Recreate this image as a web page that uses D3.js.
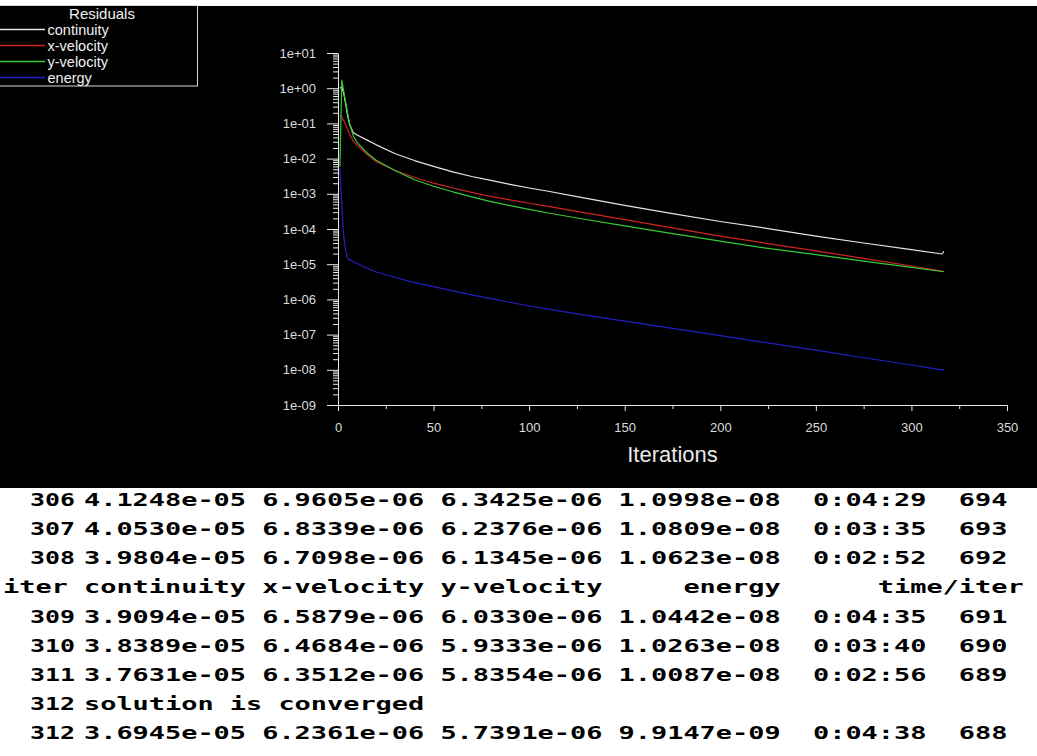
<!DOCTYPE html>
<html>
<head>
<meta charset="utf-8">
<script src="https://cdn.jsdelivr.net/npm/d3@7"></script>
<style>
  html, body { margin: 0; padding: 0; background: #ffffff; }
  svg { display: block; }
</style>
</head>
<body>
<svg id="chart" width="1037" height="756"></svg>
<script>
// ---------------- data ----------------
const iterations = [1, 2, 3, 4, 5, 6, 8, 10, 15, 20, 30, 40, 50, 60, 70, 80, 90, 100, 110, 125, 150, 175, 200, 225, 250, 275, 300, 316, 317];
const continuity = [1.0, 1.1, 0.7, 0.36, 0.17, 0.095, 0.054, 0.047, 0.034, 0.0246, 0.0137, 0.0088, 0.0060, 0.0042, 0.0031, 0.0024, 0.00185, 0.00146, 0.00118, 8.3e-4, 4.7e-4, 2.75e-4, 1.63e-4, 1.03e-4, 6.3e-5, 4.0e-5, 2.6e-5, 1.95e-5, 2.3e-5];
const xVelocity = [0.17, 0.15, 0.12, 0.09, 0.07, 0.05, 0.031, 0.024, 0.0134, 0.0081, 0.0046, 0.0029, 0.0020, 0.00146, 0.0011, 8.4e-4, 6.7e-4, 5.4e-4, 4.4e-4, 3.15e-4, 1.84e-4, 1.07e-4, 6.3e-5, 3.86e-5, 2.4e-5, 1.46e-5, 8.9e-6, 6.35e-6, 6.2e-6];
const yVelocity = [0.0059, 1.7, 0.8, 0.4, 0.2, 0.1, 0.044, 0.029, 0.0147, 0.009, 0.0045, 0.0025, 0.00164, 0.00114, 8.2e-4, 6.0e-4, 4.6e-4, 3.6e-4, 2.85e-4, 2.05e-4, 1.23e-4, 7.4e-5, 4.5e-5, 2.8e-5, 1.86e-5, 1.23e-5, 8.1e-6, 6.2e-6, 6.1e-6];
const energy = [0.0054, 4.5e-4, 6e-5, 2.5e-5, 1.45e-5, 1.35e-5, 1.18e-5, 1.05e-5, 7.8e-6, 6.0e-6, 4.2e-6, 3.0e-6, 2.3e-6, 1.75e-6, 1.35e-6, 1.05e-6, 8.3e-7, 6.5e-7, 5.3e-7, 3.9e-7, 2.4e-7, 1.5e-7, 9.4e-8, 5.8e-8, 3.6e-8, 2.2e-8, 1.37e-8, 1.0e-8, 9.9e-9];

const seriesNames = ["continuity", "x-velocity", "y-velocity", "energy"];
const legendTitle = "Residuals";
const xLabel = "Iterations";

const xTickValues = [0, 50, 100, 150, 200, 250, 300, 350];
const xMinorTickValues = [25, 75, 125, 175, 225, 275, 325];
const yTickValues = [1e1, 1e0, 1e-1, 1e-2, 1e-3, 1e-4, 1e-5, 1e-6, 1e-7, 1e-8, 1e-9];
const yTickLabels = ["1e+01", "1e+00", "1e-01", "1e-02", "1e-03", "1e-04", "1e-05", "1e-06", "1e-07", "1e-08", "1e-09"];
const minorMultipliers = [2, 3, 4, 5, 6, 7, 8, 9];

const consoleLines = [
  " 306 4.1248e-05 6.9605e-06 6.3425e-06 1.0998e-08  0:04:29  694",
  " 307 4.0530e-05 6.8339e-06 6.2376e-06 1.0809e-08  0:03:35  693",
  " 308 3.9804e-05 6.7098e-06 6.1345e-06 1.0623e-08  0:02:52  692",
  "iter continuity x-velocity y-velocity     energy      time/iter",
  " 309 3.9094e-05 6.5879e-06 6.0330e-06 1.0442e-08  0:04:35  691",
  " 310 3.8389e-05 6.4684e-06 5.9333e-06 1.0263e-08  0:03:40  690",
  " 311 3.7631e-05 6.3512e-06 5.8354e-06 1.0087e-08  0:02:56  689",
  " 312 solution is converged",
  " 312 3.6945e-05 6.2361e-06 5.7391e-06 9.9147e-09  0:04:38  688"
];

// ---------------- style / layout ----------------
const W = 1037, H = 756;
const colors = ["#e4e4e4", "#d02424", "#36c936", "#2020c4"];
const plotLeft = 338, plotRight = 1007, plotTop = 53, plotBottom = 405;
const blackTop = 6, blackBottom = 488;
const sansFont = "'Liberation Sans', Arial, sans-serif";
const monoFont = "'DejaVu Sans Mono', 'Liberation Mono', monospace";

const svg = d3.select("#chart");

// backgrounds
svg.append("rect").attr("x", 0).attr("y", 0).attr("width", W).attr("height", H).attr("fill", "#ffffff");
svg.append("rect").attr("x", 0).attr("y", blackTop).attr("width", W).attr("height", blackBottom - blackTop).attr("fill", "#000000");

// scales
const x = d3.scaleLinear().domain([0, 350]).range([plotLeft, plotRight]);
const y = d3.scaleLog().domain([1e-9, 1e1]).range([plotBottom, plotTop]);

const axisColor = "#e6e6e6";
const tickTextColor = "#dcdcdc";

// minor y ticks
const yMinor = [];
yTickValues.slice(1).forEach(v => minorMultipliers.forEach(m => yMinor.push(v * m)));

const gyMinor = svg.append("g").attr("transform", `translate(${plotLeft},0)`)
  .call(d3.axisLeft(y).tickValues(yMinor).tickSize(5).tickSizeOuter(0).tickFormat(""));
gyMinor.select(".domain").remove();
gyMinor.selectAll("line").attr("stroke", axisColor);

// major y axis
const gy = svg.append("g").attr("transform", `translate(${plotLeft},0)`)
  .call(d3.axisLeft(y).tickValues(yTickValues).tickSize(11).tickSizeOuter(0).tickPadding(11)
    .tickFormat((d, i) => yTickLabels[i]));
gy.select(".domain").attr("stroke", axisColor);
gy.selectAll("line").attr("stroke", axisColor);
gy.selectAll("text").attr("fill", tickTextColor).style("font-family", sansFont).style("font-size", "13px");

// minor x ticks
const gxMinor = svg.append("g").attr("transform", `translate(0,${plotBottom})`)
  .call(d3.axisBottom(x).tickValues(xMinorTickValues).tickSize(4).tickSizeOuter(0).tickFormat(""));
gxMinor.select(".domain").remove();
gxMinor.selectAll("line").attr("stroke", axisColor);

// major x axis
const gx = svg.append("g").attr("transform", `translate(0,${plotBottom})`)
  .call(d3.axisBottom(x).tickValues(xTickValues).tickSize(6).tickSizeOuter(0).tickPadding(11.5)
    .tickFormat(d3.format("d")));
gx.select(".domain").attr("stroke", axisColor);
gx.selectAll("line").attr("stroke", axisColor);
gx.selectAll("text").attr("fill", tickTextColor).style("font-family", sansFont).style("font-size", "13px");

// x label
svg.append("text").attr("x", (plotLeft + plotRight) / 2).attr("y", 462)
  .attr("text-anchor", "middle").attr("fill", "#e8e8e8")
  .style("font-family", sansFont).style("font-size", "22px").text(xLabel);

// series lines
const allSeries = [continuity, xVelocity, yVelocity, energy];
const line = d3.line().x(d => x(d[0])).y(d => y(d[1]));
allSeries.forEach((vals, i) => {
  const pts = iterations.map((it, j) => [it, vals[j]]);
  svg.append("path").datum(pts).attr("d", line)
    .attr("fill", "none").attr("stroke", colors[i]).attr("stroke-width", 1.2)
    .attr("stroke-linejoin", "round");
});

// legend
const lg = svg.append("g");
lg.append("rect").attr("x", -1.5).attr("y", 5.5).attr("width", 199).attr("height", 80.5)
  .attr("fill", "none").attr("stroke", "#d8d8d8").attr("stroke-width", 1);
lg.append("text").attr("x", 102).attr("y", 18.5).attr("text-anchor", "middle")
  .attr("fill", "#f0f0f0").style("font-family", sansFont).style("font-size", "15px").text(legendTitle);
seriesNames.forEach((name, i) => {
  const ly = 29.5 + i * 16;
  lg.append("line").attr("x1", 0).attr("x2", 45).attr("y1", ly).attr("y2", ly)
    .attr("stroke", colors[i]).attr("stroke-width", 1.3);
  lg.append("text").attr("x", 47.5).attr("y", ly + 5).attr("fill", "#f0f0f0")
    .style("font-family", sansFont).style("font-size", "14.5px").text(name);
});

// console text
const charW = 16.2, textX = 3, firstBaseline = 506, lineStep = 29.15;
const numX = 30, numW = 15;
function consoleText(str, x0, yy, len) {
  svg.append("text")
    .attr("x", x0).attr("y", yy)
    .attr("textLength", len).attr("lengthAdjust", "spacingAndGlyphs")
    .attr("fill", "#000000")
    .style("white-space", "pre")
    .style("font-family", monoFont).style("font-weight", "bold").style("font-size", "18px")
    .text(str);
}
consoleLines.forEach((s, i) => {
  const yy = firstBaseline + i * lineStep;
  const m = s.match(/^ (\d+)( .*)$/);
  if (m) {
    consoleText(m[1], numX, yy, m[1].length * numW);
    consoleText(m[2], textX + 4 * charW, yy, m[2].length * charW);
  } else {
    consoleText(s, textX, yy, s.length * charW);
  }
});
</script>
</body>
</html>
